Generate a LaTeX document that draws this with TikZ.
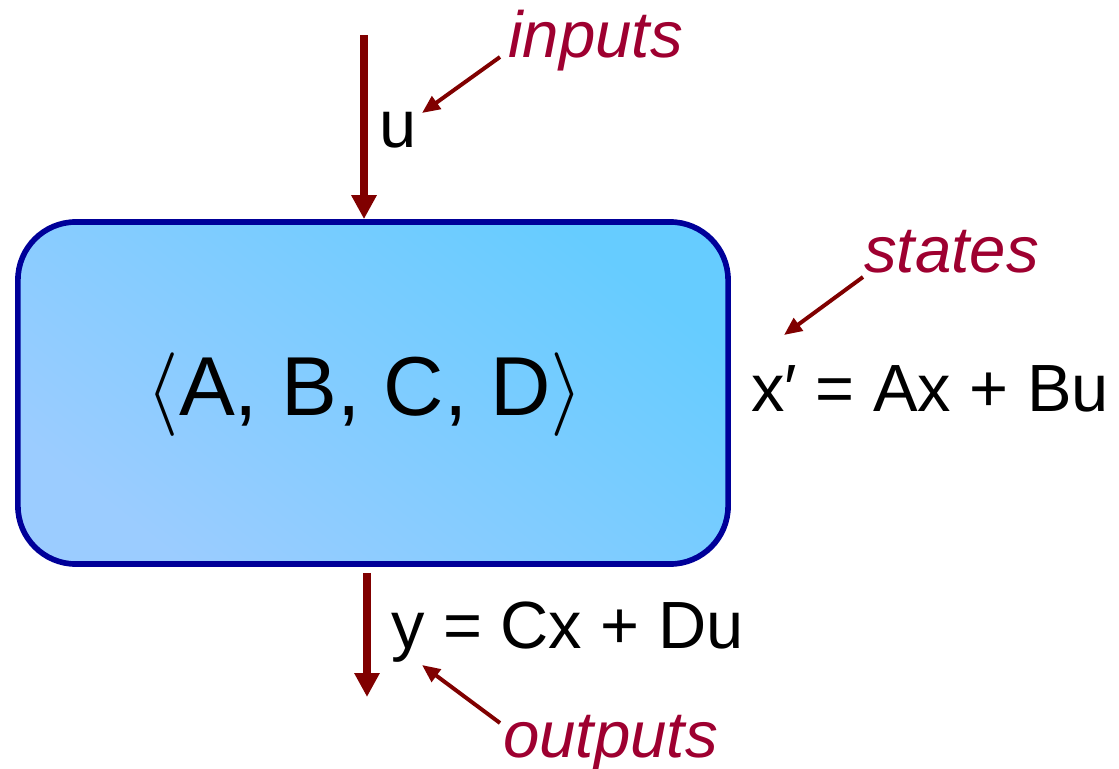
\RequirePackage{fix-cm}
\documentclass[tikz,border=0pt]{standalone}
\usepackage{fontspec}
\setmainfont{Liberation Sans}
\usetikzlibrary{positioning,arrows.meta,calc}
\definecolor{sig}{RGB}{128,0,0}
\definecolor{note}{RGB}{158,0,48}
\definecolor{rim}{RGB}{0,0,153}
\definecolor{cyn}{RGB}{102,204,255}
\definecolor{lav}{RGB}{155,204,255}

\begin{document}
\begin{tikzpicture}[x=0.025cm,y=-0.025cm,
  eqn/.style={anchor=base west,inner sep=0pt,font=\fontsize{47.5}{50}\selectfont},
  tag/.style={anchor=base west,inner sep=0pt,text=note,font=\fontsize{46.5}{48}\selectfont\itshape},
  sigarrow/.style={sig,line width=5.3pt,-{Triangle[width=0.6cm,length=0.6cm]}},
  ptr/.style={sig,line width=2.8pt,-{Triangle[width=0.38cm,length=0.45cm]}}]
\useasboundingbox (0,0) rectangle (1119,769);
% ---- the system block ----
\node[draw=rim,line width=4pt,rounded corners=1.45cm,minimum width=17.75cm,
  minimum height=8.55cm,inner sep=0pt,top color=cyn,bottom color=lav,
  shading angle=-38] (sys) at (373,393) {};
\node[anchor=base,inner sep=0pt,font=\fontsize{59.5}{62}\selectfont] (abcd) at (365,415)
  {$\langle$A, B, C, D$\rangle$};
% ---- signals in and out ----
\coordinate (uin) at (364,35);
\coordinate (yout) at (367,697);
\draw[sigarrow] (uin) -- (uin |- sys.north);
\draw[sigarrow] ($(yout |- sys.south)+(0,6)$) -- (yout);
\node[eqn] (ulab) at (379,147) {u};
\node[eqn] (xeq) at (751,411) {x′ = Ax + Bu};
\node[eqn] (yeq) at (391,648) {y = Cx + Du};
% ---- notes ----
\node[tag] (inputs) at (508,57) {inputs};
\node[tag] (states) at (864,272) {states};
\node[tag] (outputs) at (503,757) {outputs};
\coordinate (u-pt) at (422,113);
\coordinate (x-pt) at (784,335);
\coordinate (y-pt) at (422,665);
\draw[ptr] ($(inputs.base west)+(-8,0)$) -- (u-pt);
\draw[ptr] ($(states.base west)+(-1,5)$) -- (x-pt);
\draw[ptr] ($(outputs.base west)+(-3,-34)$) -- (y-pt);
\end{tikzpicture}
\end{document}
